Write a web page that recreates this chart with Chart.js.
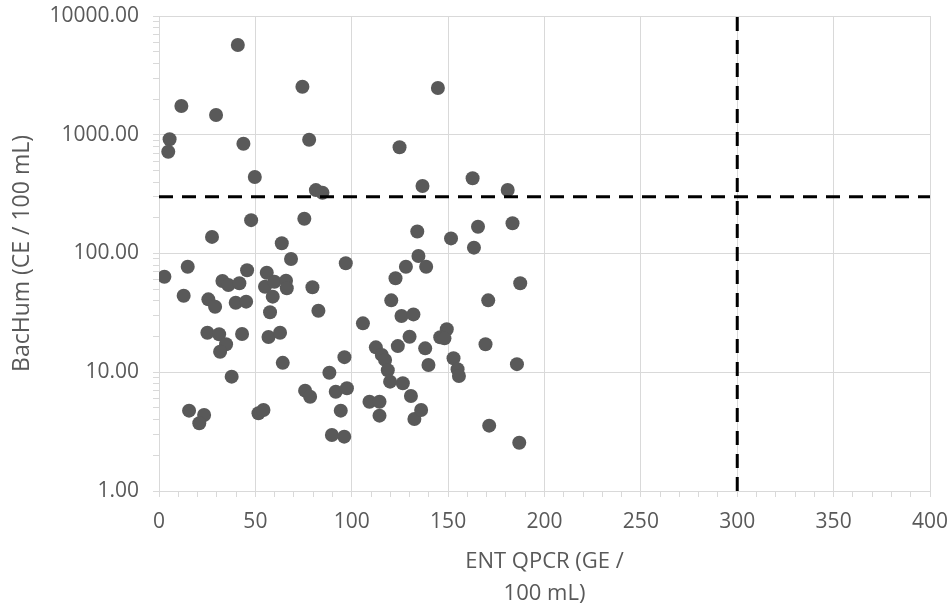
<!DOCTYPE html>
<html>
<head>
<meta charset="utf-8">
<script src="https://cdn.jsdelivr.net/npm/chart.js@4.4.1/dist/chart.umd.min.js"></script>
<style>
  html, body { margin: 0; padding: 0; background: #fff; }
  #wrap { width: 951px; height: 611px; }
</style>
</head>
<body>
<div id="wrap"><canvas id="c" width="951" height="611"></canvas></div>
<script>
// ENT qPCR (x) と BacHum (y) の散布図
const entQpcr = [
  40.9, 11.6, 29.6, 74.4, 5.5, 4.8, 43.8, 77.9, 49.7, 81.4, 84.8, 47.8, 75.4, 27.5, 63.7, 68.5,
  2.8, 14.9, 45.7, 32.9, 36, 41.7, 55.9, 55, 59.9, 65.9, 66.3, 59, 96.9, 12.8, 25.6, 29.1,
  39.8, 45.2, 79.6, 82.7, 57.6, 25.1, 31.2, 34.8, 31.7, 43.1, 56.8, 62.8, 64.2, 37.7, 15.6, 23.4,
  20.9, 51.6, 54.2, 96.2, 88.4, 75.8, 78.4, 91.7, 97.5, 94.3, 89.7, 96.1,
  144.7, 124.8, 136.7, 162.7, 180.9, 134, 151.5, 165.5, 163.4, 183.4, 134.6,
  128.1, 138.6, 122.7, 187.4, 170.8, 120.5, 125.8, 132, 105.8, 149.3, 145.9, 148.1, 130, 123.9,
  138.1, 169.4, 112.5, 115.6, 117.3, 139.8, 152.8, 154.9, 155.6, 185.7, 118.7, 119.9, 126.5,
  130.7, 109.2, 114.4, 114.4, 132.5, 136, 171.3, 186.9
];
const bacHum = [
  5700, 1746, 1467, 2540, 916, 720, 841, 908, 441, 342, 325, 191, 196, 138, 122, 90,
  63.8, 77.4, 72.2, 58.7, 54.3, 56.1, 68.9, 52.5, 57.9, 59, 51, 43.3, 82.7, 44.1, 41.1, 35.6,
  38.5, 39.3, 51.9, 33, 32, 21.5, 20.9, 17.2, 14.9, 21, 19.8, 21.5, 12, 9.18, 4.75, 4.36,
  3.72, 4.51, 4.81, 13.4, 9.9, 7.0, 6.22, 6.86, 7.33, 4.75, 2.96, 2.87,
  2477, 784, 370, 430, 343, 153, 134, 168, 112, 180, 95.3,
  77.4, 77.4, 61.8, 56.1, 40.3, 40.3, 29.8, 30.7, 25.8, 23.0, 19.7, 19.3, 19.9, 16.6,
  15.9, 17.2, 16.2, 14.0, 12.7, 11.5, 13.1, 10.6, 9.3, 11.7, 10.4, 8.33, 8.07,
  6.31, 5.65, 5.65, 4.31, 4.04, 4.81, 3.55, 2.55
];

// 基準線（点線）
const limitEnt = 300;
const limitBacHum = 300;

// 目盛り
const xTicks = [0, 50, 100, 150, 200, 250, 300, 350, 400];
const yTicks = [1, 10, 100, 1000, 10000];
const xMinorStep = 10;

const GRID = '#d9d9d9';
const TEXT = '#595959';

const points = entQpcr.map((x, i) => ({ x, y: bacHum[i] }));

// 補助目盛り（目盛り線は主目盛りだけ）
const xAllTicks = [];
for (let v = xTicks[0]; v <= xTicks[xTicks.length - 1]; v += xMinorStep) xAllTicks.push(v);
const yAllTicks = [];
yTicks.forEach((d, i) => {
  if (i === yTicks.length - 1) { yAllTicks.push(d); return; }
  for (let k = 1; k < 10; k++) yAllTicks.push(d * k);
});

new Chart(document.getElementById('c'), {
  type: 'scatter',
  data: {
    datasets: [
      {
        type: 'line',
        data: [{ x: xTicks[0], y: limitBacHum }, { x: xTicks[xTicks.length - 1], y: limitBacHum }],
        borderColor: '#000', borderWidth: 3, borderDash: [14, 9],
        pointRadius: 0, fill: false, order: 0
      },
      {
        type: 'line',
        data: [{ x: limitEnt, y: yTicks[0] }, { x: limitEnt, y: yTicks[yTicks.length - 1] }],
        borderColor: '#000', borderWidth: 3, borderDash: [14, 9],
        pointRadius: 0, fill: false, order: 0
      },
      {
        data: points,
        backgroundColor: '#595959', borderColor: '#595959', borderWidth: 0,
        pointRadius: 7, pointHoverRadius: 7, order: 1
      }
    ]
  },
  options: {
    responsive: false, animation: false,
    layout: { padding: { top: 16, right: 21, left: 0, bottom: 0 } },
    plugins: { legend: { display: false }, tooltip: { enabled: false } },
    scales: {
      x: {
        type: 'linear', min: 0, max: 400,
        afterBuildTicks: s => { s.ticks = xAllTicks.map(v => ({ value: v })); },
        afterFit: s => { s.height = 120; s.paddingLeft = 0; s.paddingRight = 0; },
        grid: {
          color: c => xTicks.includes(c.tick.value) ? GRID : 'rgba(0,0,0,0)',
          tickColor: GRID, tickLength: 6, drawTicks: true
        },
        border: { color: GRID, width: 1 },
        ticks: {
          autoSkip: false, maxRotation: 0, padding: 12,
          color: TEXT, font: { family: 'Open Sans', size: 21 },
          callback: v => xTicks.includes(v) ? String(v) : ''
        },
        title: {
          display: true, text: ['ENT QPCR (GE /', '100 mL)'],
          color: TEXT, font: { family: 'Open Sans', size: 22, lineHeight: 1.4545 },
          padding: { top: 0, bottom: 1 }
        }
      },
      y: {
        type: 'logarithmic', min: 1, max: 10000,
        afterBuildTicks: s => { s.ticks = yAllTicks.map(v => ({ value: v })); },
        afterFit: s => { s.width = 159; s.paddingTop = 0; s.paddingBottom = 0; },
        grid: {
          color: c => yTicks.includes(c.tick.value) ? GRID : 'rgba(0,0,0,0)',
          tickColor: GRID, tickLength: 6, drawTicks: true
        },
        border: { color: GRID, width: 1 },
        ticks: {
          autoSkip: false, padding: 14,
          color: TEXT, font: { family: 'Open Sans', size: 21 },
          callback: v => yTicks.includes(v) ? v.toFixed(2) : ''
        },
        title: {
          display: true, text: 'BacHum (CE / 100 mL)',
          color: TEXT, font: { family: 'Open Sans', size: 23, lineHeight: 1.2 },
          padding: { top: 9, bottom: 0 }
        }
      }
    }
  }
});
</script>
</body>
</html>
